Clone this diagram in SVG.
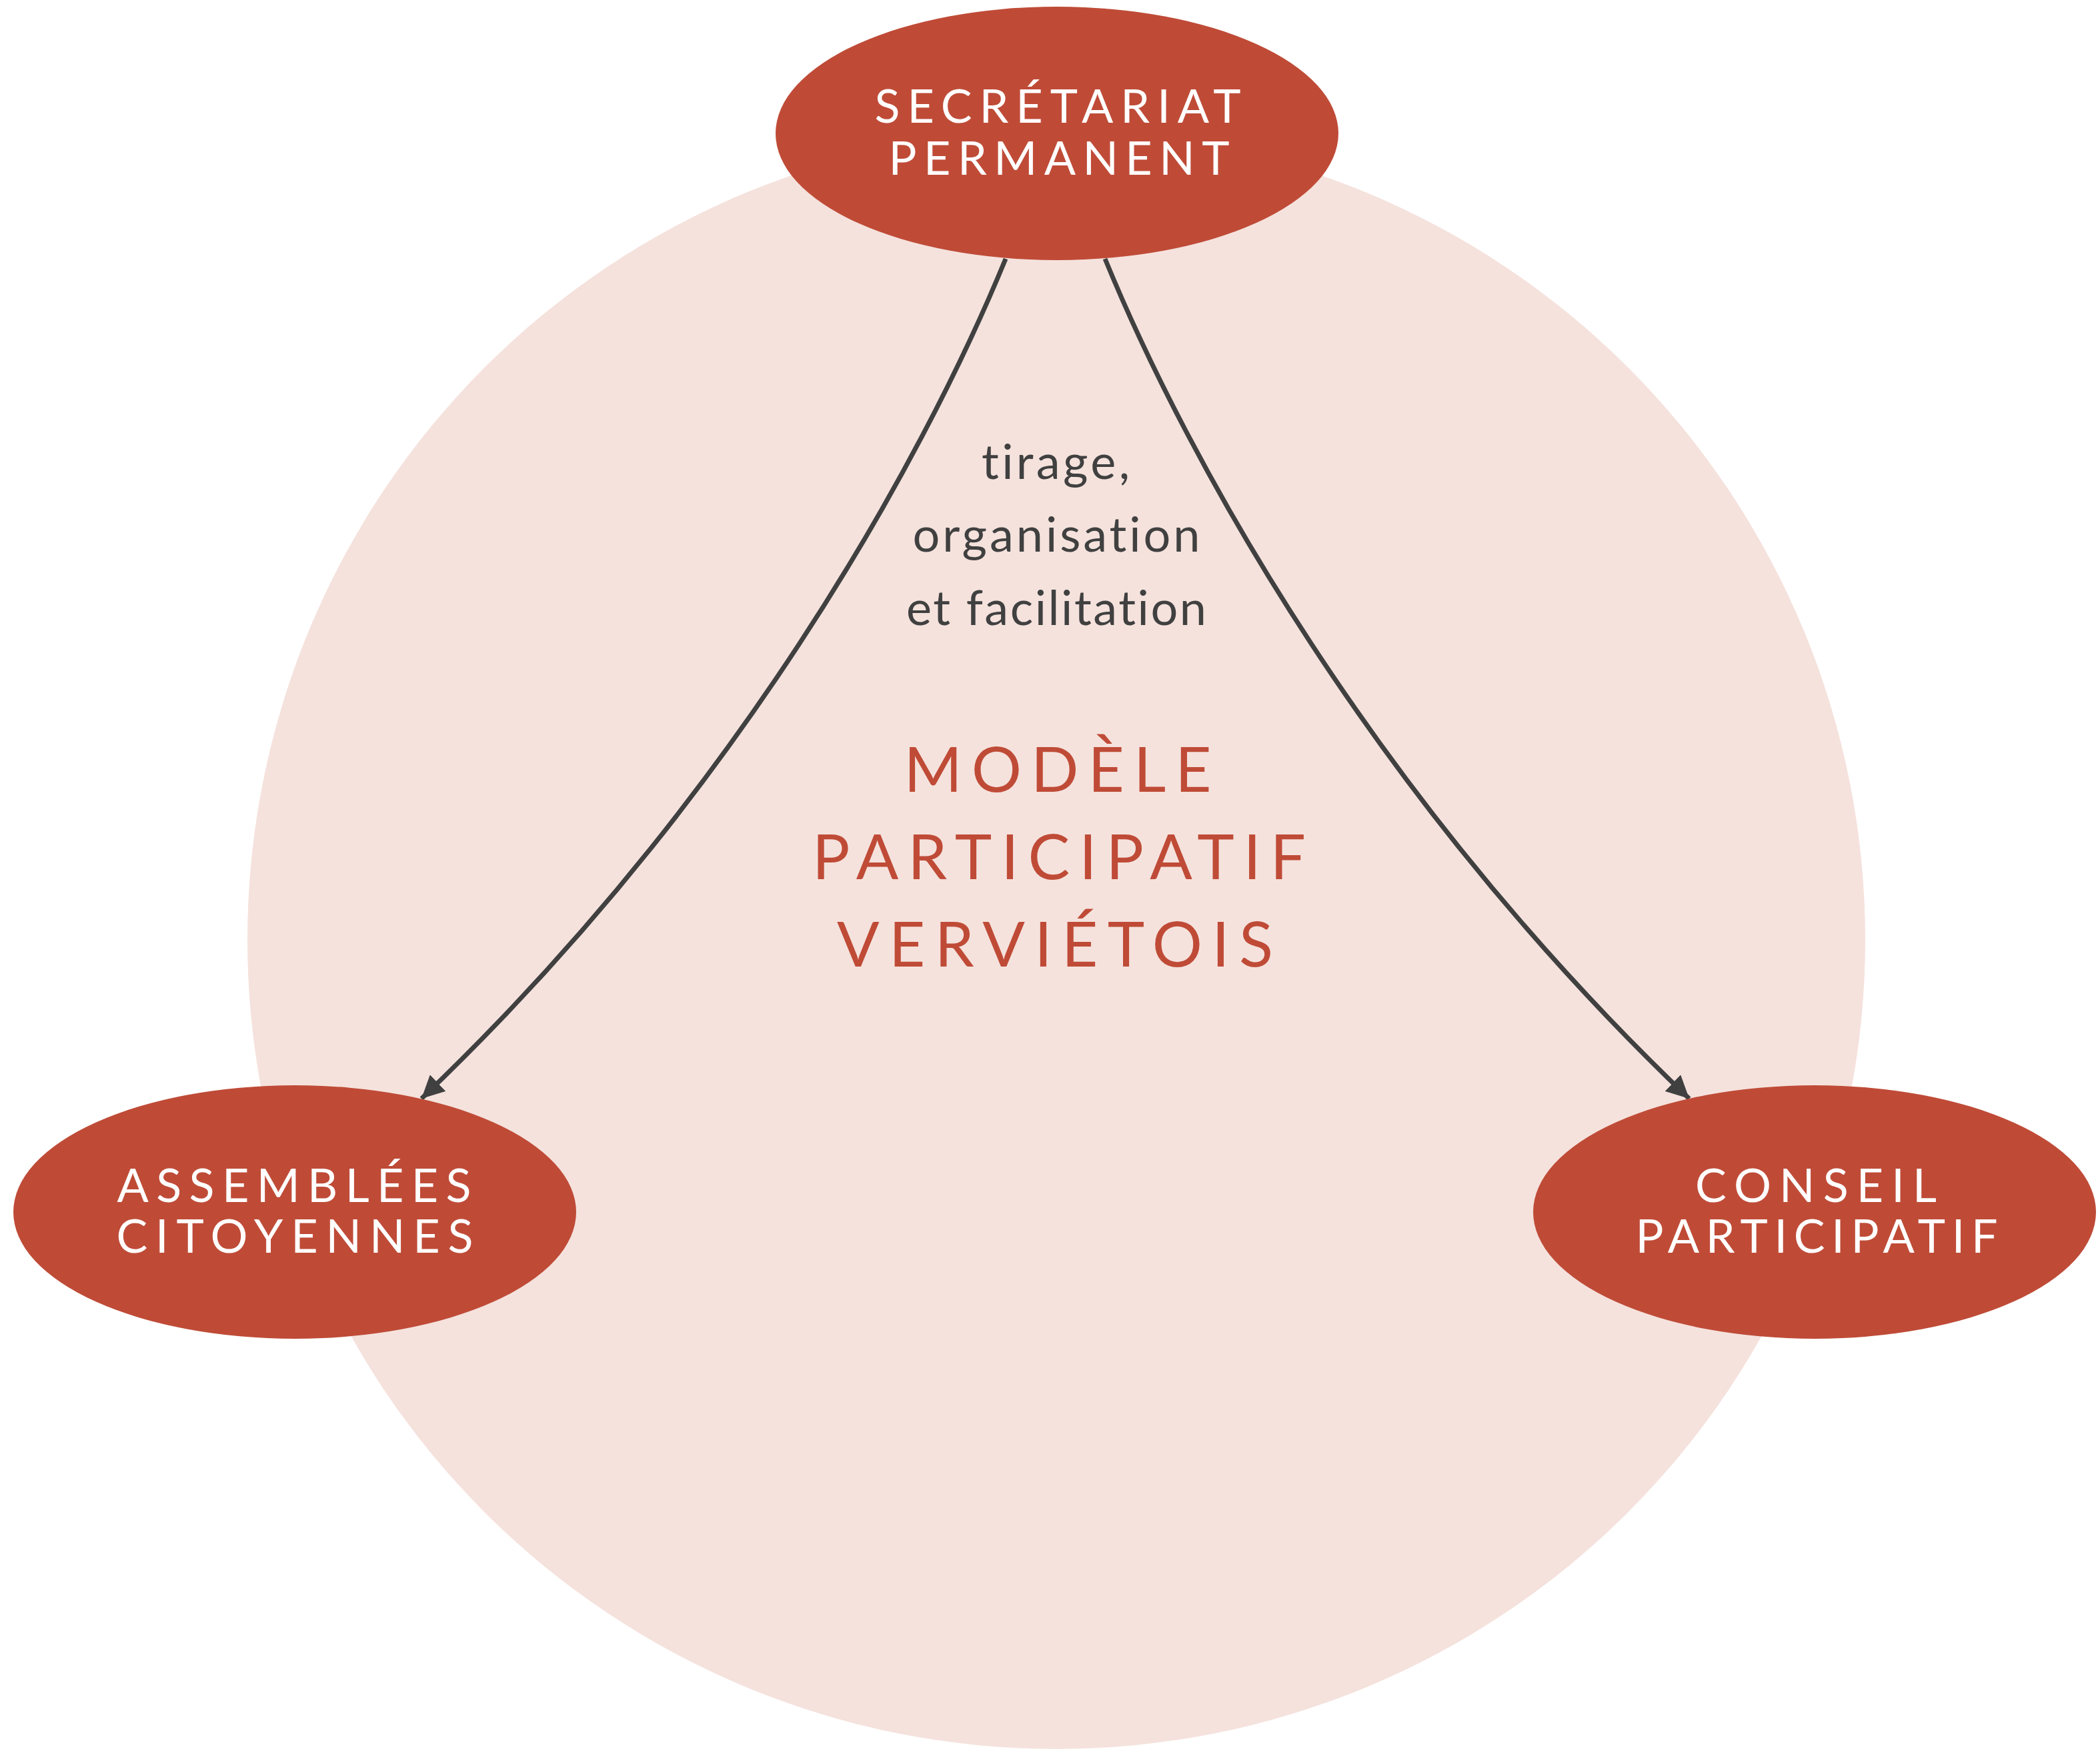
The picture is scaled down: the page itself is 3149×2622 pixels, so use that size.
<svg xmlns="http://www.w3.org/2000/svg" width="3149" height="2622" viewBox="0 0 3149 2622">
  <style>
    text { font-variant-ligatures: none; font-feature-settings: "liga" 0, "clig" 0; }
    .node { fill: #BF4B37; }
    .ntext { font-family: Lato, "Liberation Sans", sans-serif; font-size: 70px; fill: #FFFFFF; text-anchor: middle; }
    .label { font-family: Lato, "Liberation Sans", sans-serif; font-size: 72px; fill: #404040; text-anchor: middle; }
    .title { font-family: Lato, "Liberation Sans", sans-serif; font-size: 94px; fill: #BF4B37; text-anchor: middle; }
    .edge { fill: none; stroke: #404040; stroke-width: 7; marker-end: url(#arrow); }
  </style>
  <defs>
    <marker id="arrow" markerUnits="userSpaceOnUse" viewBox="0 0 34 34" refX="34" refY="17" markerWidth="34" markerHeight="34" orient="auto">
      <path d="M0,0 L34,17 L0,34 z" fill="#404040"/>
    </marker>
  </defs>
  <rect x="0" y="0" width="3149" height="2622" fill="#FFFFFF"/>
  <g id="background">
    <circle cx="1584" cy="1409" r="1213" fill="#F5E2DD"/>
    <g id="title">
      <text class="title" x="1586" y="1187" textLength="461" lengthAdjust="spacing">MODÈLE</text>
      <text class="title" x="1588" y="1318" textLength="740" lengthAdjust="spacing">PARTICIPATIF</text>
      <text class="title" x="1582" y="1449" textLength="654" lengthAdjust="spacing">VERVIÉTOIS</text>
    </g>
  </g>
  <g id="connectors">
    <path class="edge" d="M1508,388 C1380,700 1100,1200 632,1647"/>
    <path class="edge" d="M1657,388 C1785,700 2065,1200 2533,1647"/>
    <g id="edge-label">
      <text class="label" x="1583" y="718" textLength="222" lengthAdjust="spacing">tirage,</text>
      <text class="label" x="1584" y="827" textLength="431" lengthAdjust="spacing">organisation</text>
      <text class="label" x="1584" y="937" textLength="450" lengthAdjust="spacing">et facilitation</text>
    </g>
  </g>
  <g id="node-secretariat">
    <ellipse class="node" cx="1585" cy="200" rx="422" ry="190"/>
    <text class="ntext" x="1586" y="184" textLength="549" lengthAdjust="spacing">SECRÉTARIAT</text>
    <text class="ntext" x="1588" y="262" textLength="511" lengthAdjust="spacing">PERMANENT</text>
  </g>
  <g id="node-assemblees">
    <ellipse class="node" cx="442" cy="1817" rx="422" ry="190"/>
    <text class="ntext" x="441" y="1802" textLength="531" lengthAdjust="spacing">ASSEMBLÉES</text>
    <text class="ntext" x="442" y="1878" textLength="535" lengthAdjust="spacing">CITOYENNES</text>
  </g>
  <g id="node-conseil">
    <ellipse class="node" cx="2721" cy="1817" rx="422" ry="190"/>
    <text class="ntext" x="2723" y="1802" textLength="362" lengthAdjust="spacing">CONSEIL</text>
    <text class="ntext" x="2724" y="1878" textLength="543" lengthAdjust="spacing">PARTICIPATIF</text>
  </g>
</svg>
